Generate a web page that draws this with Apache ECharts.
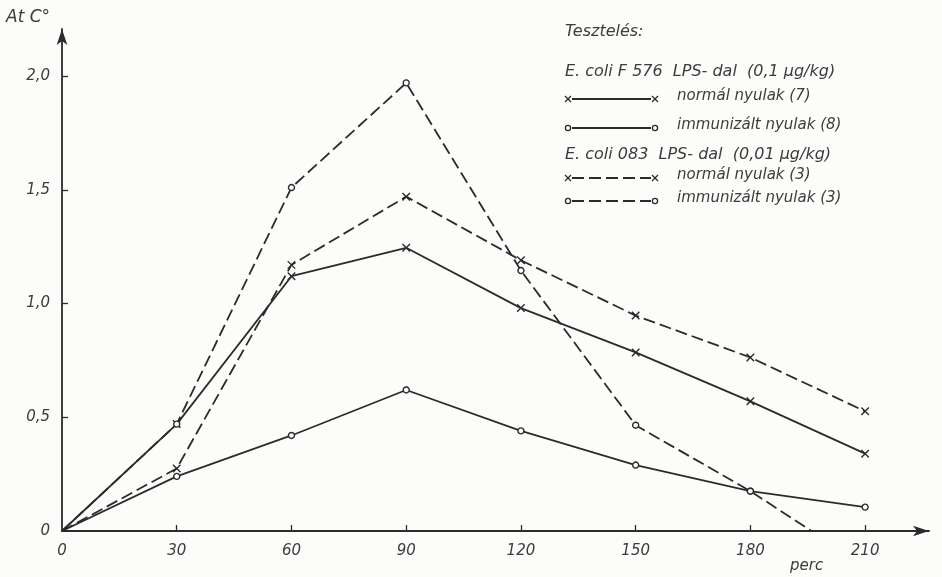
<!DOCTYPE html>
<html>
<head>
<meta charset="utf-8">
<script src="https://cdn.jsdelivr.net/npm/echarts@6/dist/echarts.min.js"></script>
<style>
html,body{margin:0;padding:0;background:#fcfcfa;}
#c{width:942px;height:577px;}
</style>
</head>
<body>
<div id="c"></div>
<script>
// ---- data ----
const minutes = [0, 30, 60, 90, 120, 150, 180, 210];
const normal7 = [0, 0.47, 1.12, 1.245, 0.98, 0.785, 0.57, 0.34];
const immun8 = [0, 0.24, 0.42, 0.62, 0.44, 0.29, 0.175, 0.105];
const normal3 = [0, 0.275, 1.17, 1.47, 1.19, 0.947, 0.763, 0.526];
const immun3Minutes = [0, 30, 60, 90, 120, 150, 180, 196];
const immun3 = [0, 0.47, 1.51, 1.97, 1.145, 0.465, 0.175, 0];
const xTicks = [0, 30, 60, 90, 120, 150, 180, 210];
const yTicks = [0, 0.5, 1.0, 1.5, 2.0];
const yTitle = 'At C°';
const xTitle = 'perc';
const legendTitle = 'Tesztelés:';
const group1Title = 'E. coli F 576  LPS- dal  (0,1 µg/kg)';
const group2Title = 'E. coli 083  LPS- dal  (0,01 µg/kg)';
const seriesNames = ['normál nyulak (7)', 'immunizált nyulak (8)', 'normál nyulak (3)', 'immunizált nyulak (3)'];

const INK = '#2b2b2b';
const TXT = '#3c3c3c';
const FONT = "'DejaVu Sans', 'Liberation Sans', sans-serif";
const CROSS = 'path://M0,0L10,10M10,0L0,10';

function build(xs, ys, noSymbolIdx) {
  return xs.map((x, i) => {
    const item = { value: [x, ys[i]] };
    if (noSymbolIdx.includes(i)) item.symbol = 'none';
    return item;
  });
}

function lineSeries(name, data, dashed, cross) {
  return {
    name: name,
    type: 'line',
    data: data,
    symbol: cross ? CROSS : 'circle',
    symbolSize: cross ? 7.5 : 6,
    showSymbol: true,
    animation: false,
    lineStyle: { color: INK, width: 1.8, type: dashed ? [12, 5] : 'solid' },
    itemStyle: cross
      ? { color: 'rgba(0,0,0,0)', borderColor: INK, borderWidth: 1.4 }
      : { color: '#fcfcfa', borderColor: INK, borderWidth: 1.4 },
    z: cross ? 3 : 4
  };
}

// legend drawn as graphic elements
const LX0 = 568, LX1 = 655, TX = 677;
function legendItem(y, dashed, cross, label) {
  const els = [];
  els.push({ type: 'line', shape: { x1: LX0 + 4, y1: y, x2: LX1 - 4, y2: y },
    style: { stroke: INK, lineWidth: 1.8, lineDash: dashed ? [12, 5] : null } });
  [LX0, LX1].forEach(cx => {
    if (cross) {
      els.push({ type: 'line', shape: { x1: cx - 3, y1: y - 3, x2: cx + 3, y2: y + 3 }, style: { stroke: INK, lineWidth: 1.3 } });
      els.push({ type: 'line', shape: { x1: cx - 3, y1: y + 3, x2: cx + 3, y2: y - 3 }, style: { stroke: INK, lineWidth: 1.3 } });
    } else {
      els.push({ type: 'circle', shape: { cx: cx, cy: y, r: 2.6 }, style: { fill: '#fcfcfa', stroke: INK, lineWidth: 1.3 } });
    }
  });
  els.push({ type: 'text', x: TX, y: y - 3, style: { text: label, font: 'italic 15px ' + FONT, fill: TXT, verticalAlign: 'middle' } });
  return els;
}

const graphics = [
  { type: 'text', left: 6, top: 9, style: { text: yTitle, font: 'italic 17px ' + FONT, fill: TXT } },
  { type: 'text', left: 790, top: 559, style: { text: xTitle, font: 'italic 15px ' + FONT, fill: TXT } },
  { type: 'text', x: 565, y: 32, style: { text: legendTitle, font: 'italic 16px ' + FONT, fill: TXT, verticalAlign: 'middle' } },
  { type: 'text', x: 565, y: 72, style: { text: group1Title, font: 'italic 16px ' + FONT, fill: TXT, verticalAlign: 'middle' } },
  ...legendItem(99, false, true, seriesNames[0]),
  ...legendItem(128, false, false, seriesNames[1]),
  { type: 'text', x: 565, y: 155, style: { text: group2Title, font: 'italic 16px ' + FONT, fill: TXT, verticalAlign: 'middle' } },
  ...legendItem(178, true, true, seriesNames[2]),
  ...legendItem(201, true, false, seriesNames[3])
];

const chart = echarts.init(document.getElementById('c'), null, { renderer: 'canvas' });
chart.setOption({
  backgroundColor: '#fcfcfa',
  animation: false,
  grid: { left: 62, right: 13, top: 29, bottom: 46, containLabel: false },
  xAxis: {
    type: 'value', min: 0, max: 226.7,
    axisLine: { show: true, lineStyle: { color: INK, width: 1.8 }, symbol: ['none', 'arrow'], symbolSize: [8, 16] },
    axisTick: { show: true, inside: true, length: 6, lineStyle: { color: INK, width: 1.3 }, customValues: xTicks.slice(1) },
    axisLabel: { customValues: xTicks, margin: 13, color: TXT, fontSize: 15, fontStyle: 'italic', fontFamily: FONT },
    splitLine: { show: false }
  },
  yAxis: {
    type: 'value', min: 0, max: 2.207,
    axisLine: { show: true, lineStyle: { color: INK, width: 1.8 }, symbol: ['none', 'arrow'], symbolSize: [8, 16] },
    axisTick: { show: true, inside: true, length: 6, lineStyle: { color: INK, width: 1.3 }, customValues: yTicks.slice(1) },
    axisLabel: { customValues: yTicks, margin: 12, color: TXT, fontSize: 15, fontStyle: 'italic', fontFamily: FONT,
      formatter: v => v === 0 ? '0' : v.toFixed(1).replace('.', ',') },
    splitLine: { show: false }
  },
  series: [
    lineSeries(seriesNames[0], build(minutes, normal7, [0]), false, true),
    lineSeries(seriesNames[1], build(minutes, immun8, [0]), false, false),
    lineSeries(seriesNames[2], build(minutes, normal3, [0]), true, true),
    lineSeries(seriesNames[3], build(immun3Minutes, immun3, [0, 7]), true, false)
  ],
  graphic: graphics
});
</script>
</body>
</html>
